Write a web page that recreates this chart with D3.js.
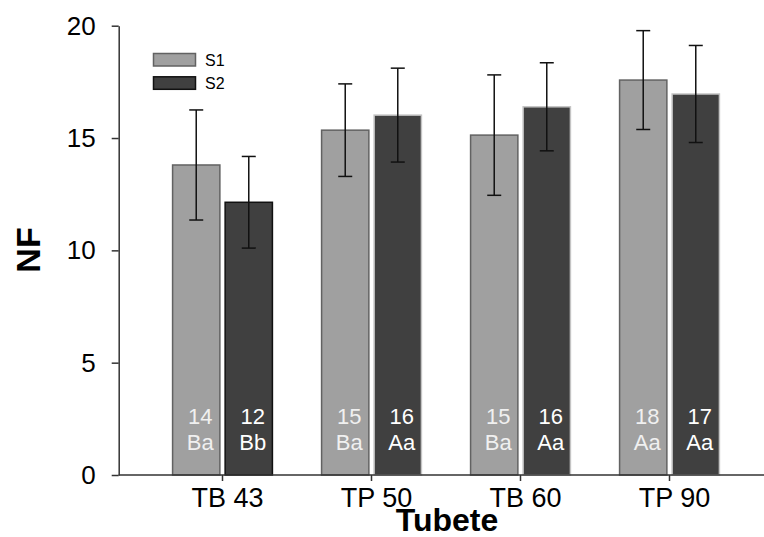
<!DOCTYPE html>
<html><head><meta charset="utf-8">
<script src="https://cdn.jsdelivr.net/npm/d3@7"></script>
<style>body{margin:0;background:#fff}svg{display:block}text{font-family:Arial,"Liberation Sans",sans-serif}</style>
</head><body><svg id="c" width="764" height="537"></svg>
<script>
const categories = ["TB 43", "TP 50", "TB 60", "TP 90"];
const series = ["S1", "S2"];
const s1Values = [13.80, 15.35, 15.13, 17.58];
const s2Values = [12.14, 16.02, 16.39, 16.96];
const s1Err = [2.45, 2.06, 2.68, 2.20];
const s2Err = [2.04, 2.09, 1.96, 2.16];
const s1Num = ["14", "15", "15", "18"];
const s2Num = ["12", "16", "16", "17"];
const s1Letters = ["Ba", "Ba", "Ba", "Aa"];
const s2Letters = ["Bb", "Aa", "Aa", "Aa"];
const yTicks = [0, 5, 10, 15, 20];

const svg = d3.select("#c");
const y = d3.scaleLinear().domain([0, 20]).range([475, 25.7]);
const x = d3.scaleBand().domain(categories).range([148, 744]).paddingInner(0.33).paddingOuter(0.165);
const xs = d3.scaleBand().domain(series).range([0, x.bandwidth()]).paddingInner(0.1);

const data = [];
categories.forEach((c, i) => {
  data.push({c, s: "S1", v: s1Values[i], e: s1Err[i], n: s1Num[i], l: s1Letters[i], i});
  data.push({c, s: "S2", v: s2Values[i], e: s2Err[i], n: s2Num[i], l: s2Letters[i], i});
});
const fill = {S1: "#a0a0a0", S2: "#404040"};
const stroke = d => d.s === "S1" ? "#626262" : (d.i === 0 ? "#111" : "#c4c4c4");

// bars
svg.append("g").selectAll("rect").data(data).join("rect")
  .attr("x", d => x(d.c) + xs(d.s))
  .attr("y", d => y(d.v))
  .attr("width", xs.bandwidth())
  .attr("height", d => y(0) - y(d.v))
  .attr("fill", d => fill[d.s])
  .attr("stroke", stroke)
  .attr("stroke-width", 1.5);

// error bars
const eg = svg.append("g").attr("stroke", "#111").attr("stroke-width", 1.5);
data.forEach(d => {
  const cx = x(d.c) + xs(d.s) + xs.bandwidth() / 2;
  eg.append("line").attr("x1", cx).attr("x2", cx).attr("y1", y(d.v + d.e)).attr("y2", y(d.v - d.e));
  [d.v + d.e, d.v - d.e].forEach(t => eg.append("line").attr("x1", cx - 7).attr("x2", cx + 7).attr("y1", y(t)).attr("y2", y(t)));
});

// bar labels
const lg = svg.append("g").attr("font-size", 22).attr("text-anchor", "middle");
data.forEach(d => {
  const cx = x(d.c) + xs(d.s) + xs.bandwidth() / 2 + 4;
  const col = d.s === "S1" ? "#f0f0f0" : "#ffffff";
  lg.append("text").attr("x", cx).attr("y", 424).attr("fill", col).text(d.n);
  lg.append("text").attr("x", cx).attr("y", 450).attr("fill", col).text(d.l);
});

// y axis
const ya = svg.append("g").attr("transform", "translate(118.7,0)")
  .call(d3.axisLeft(y).tickValues(yTicks).tickSize(7).tickSizeOuter(0).tickPadding(16));
ya.select(".domain").attr("stroke", "#333").attr("stroke-width", 1.5);
ya.selectAll(".tick line").attr("stroke", "#333").attr("stroke-width", 1.5);
ya.selectAll(".tick text").attr("font-size", 26).attr("fill", "#000").attr("font-family", "Arial, 'Liberation Sans', sans-serif");

// x axis
const xa = svg.append("g").attr("transform", "translate(0,475)")
  .call(d3.axisBottom(x).tickSize(6).tickSizeOuter(0).tickPadding(6));
xa.select(".domain").remove();
xa.append("line").attr("x1", 118.7).attr("x2", 764).attr("y1", 0).attr("y2", 0).attr("stroke", "#333").attr("stroke-width", 1.5);
xa.selectAll(".tick line").attr("stroke", "#333").attr("stroke-width", 1.5);
xa.selectAll(".tick text").attr("font-size", 27).attr("fill", "#000").attr("dx", 5).attr("dy", "0.75em").attr("font-family", "Arial, 'Liberation Sans', sans-serif");

// axis titles
svg.append("text").attr("x", 447).attr("y", 531).attr("text-anchor", "middle")
  .attr("font-size", 32).attr("font-weight", "bold").text("Tubete");
svg.append("text").attr("transform", "translate(40,250) rotate(-90)").attr("text-anchor", "middle")
  .attr("font-size", 34).attr("font-weight", "bold").text("NF");

// legend
const leg = svg.append("g");
series.forEach((s, i) => {
  leg.append("rect").attr("x", 153.5).attr("y", 53.5 + i * 23.3).attr("width", 42).attr("height", 12.5)
    .attr("fill", fill[s]).attr("stroke", i === 0 ? "#626262" : "#111").attr("stroke-width", 1.5);
  leg.append("text").attr("x", 205).attr("y", 66 + i * 22.5).attr("font-size", 16).text(s);
});
</script></body></html>
